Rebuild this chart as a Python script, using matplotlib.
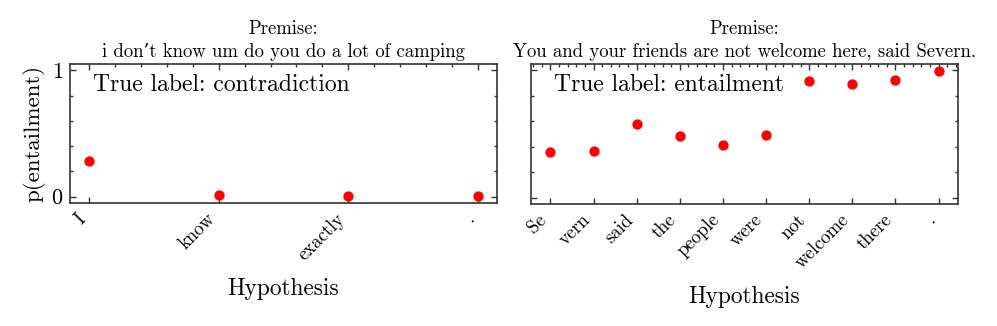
import matplotlib
matplotlib.use("Agg")
import matplotlib.pyplot as plt
from matplotlib.ticker import MultipleLocator

plt.rcParams['font.family'] = ['cmr10', 'DejaVu Serif']
plt.rcParams['mathtext.fontset'] = 'cm'
plt.rcParams['axes.formatter.use_mathtext'] = True

left_title = "Premise:\ni don\u2019t know um do you do a lot of camping"
left_label = "True label: contradiction"
left_words = ["I", "know", "exactly", "."]
left_vals = [0.28, 0.01, 0.005, 0.005]

right_title = "Premise:\nYou and your friends are not welcome here, said Severn."
right_label = "True label: entailment"
right_words = ["Se", "vern", "said", "the", "people", "were", "not", "welcome", "there", "."]
right_vals = [0.36, 0.37, 0.575, 0.483, 0.417, 0.494, 0.916, 0.89, 0.927, 0.992]

fig = plt.figure(figsize=(9.97, 3.26), dpi=100)
ax1 = fig.add_axes([70/997, 123/326, 427/997, 139/326])
ax2 = fig.add_axes([531/997, 122/326, 427/997, 140/326])

spine_col = '#333333'
for ax, words, vals, title, lab in [(ax1, left_words, left_vals, left_title, left_label),
                                    (ax2, right_words, right_vals, right_title, right_label)]:
    x = list(range(len(words)))
    ax.scatter(x, vals, s=55, color='#ff0000', zorder=3, linewidths=0)
    ax.set_xticks(x)
    ax.set_xticklabels(words, rotation=45, ha='right', fontsize=13.5)
    ax.set_ylim(-0.05, 1.05)
    ax.set_yticks([0, 1])
    ax.yaxis.set_minor_locator(MultipleLocator(0.2))
    ax.xaxis.set_minor_locator(MultipleLocator(0.2))
    ax.tick_params(which='both', direction='in', top=True, right=True, color=spine_col, width=1)
    ax.tick_params(which='major', length=4.5, labelsize=16, pad=5)
    ax.tick_params(axis='x', which='major', labelsize=13.5, pad=5)
    ax.tick_params(which='minor', length=2.2, bottom=False)
    for s in ax.spines.values():
        s.set_color(spine_col)
        s.set_linewidth(1.2)
    ax.set_title(title, fontsize=13.5, linespacing=1.35, pad=5)
    ax.text(0.055, 0.93, lab, transform=ax.transAxes, fontsize=17, va='top', ha='left')
    ax.set_xlabel("Hypothesis", fontsize=16.8, labelpad=10)

ax1.set_ylabel("p(entailment)", fontsize=16.5, labelpad=4)
ax2.set_yticklabels([])

fig.savefig("out.png", dpi=100)
